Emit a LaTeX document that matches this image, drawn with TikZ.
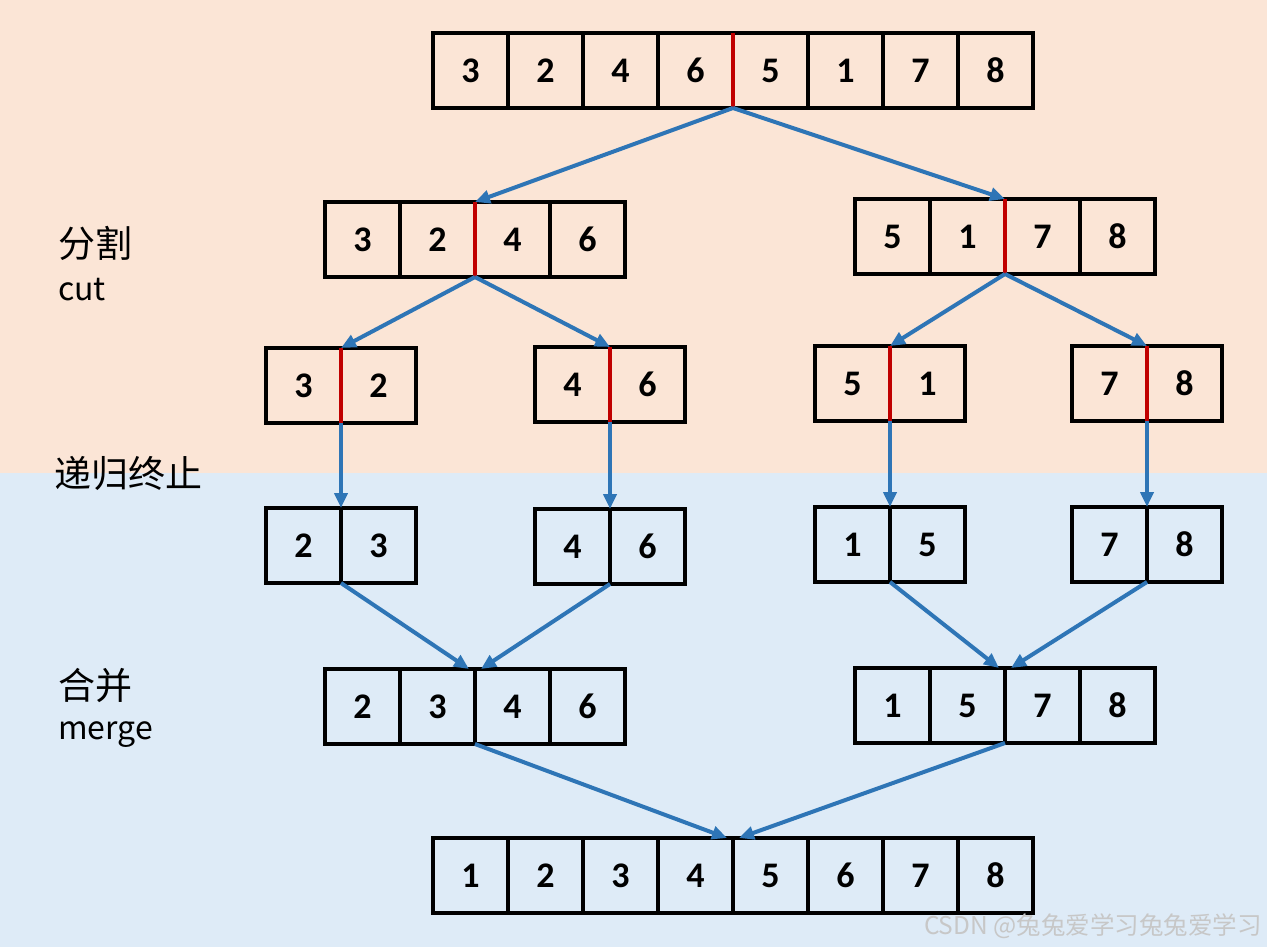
\documentclass[tikz,border=0pt]{standalone}
\usepackage{fontspec}
\setmainfont{Carlito}
\newfontfamily\cjkfont{Noto Sans CJK SC}
\usetikzlibrary{arrows.meta, positioning}
\definecolor{peach}{HTML}{FBE5D6}
\definecolor{paleblue}{HTML}{DEEBF7}
\definecolor{arrowblue}{HTML}{2E75B6}
\definecolor{splitred}{HTML}{C00000}

\tikzset{
  cell/.style={draw=black, line width=4.5pt, minimum width=75pt, minimum height=75pt,
    inner sep=0pt, outer sep=0pt, font=\fontsize{36}{36}\selectfont\bfseries},
  link/.style={arrowblue, line width=4pt, -{Triangle[length=15pt,width=13pt]}},
  divider/.style={splitred, line width=4pt},
  tag/.style={anchor=west, inner sep=0pt, font=\cjkfont\fontsize{37}{42}\selectfont},
  tagen/.style={anchor=base west, inner sep=0pt, font=\cjkfont\fontsize{32}{36}\selectfont},
}

\begin{document}
\begin{tikzpicture}[x=1pt, y=-1pt]
  \useasboundingbox (0,0) rectangle (1267,947);
  % --- fond : partie coupe / partie fusion ---
  \fill[peach] (0,0) rectangle (1267,473);
  \fill[paleblue] (0,473) rectangle (1267,947);

  % --- tableaux ---
  \foreach \nm/\ox/\oy/\vals in {
      top/395.5/70.5/{3,2,4,6,5,1,7,8},
      cutL/287.5/239.5/{3,2,4,6}, cutR/817.5/236.5/{5,1,7,8},
      pa/228.5/385.5/{3,2}, pb/497.5/384.5/{4,6}, pc/777.5/383.5/{5,1}, pd/1034.5/383.5/{7,8},
      sa/228.5/545.5/{2,3}, sb/497.5/546.5/{4,6}, sc/777.5/544.5/{1,5}, sd/1034.5/544.5/{7,8},
      mgL/287.5/706.5/{2,3,4,6}, mgR/817.5/705.5/{1,5,7,8},
      res/395.5/875.5/{1,2,3,4,5,6,7,8}}
    \foreach \v [count=\i] in \vals
      \node[cell] (\nm\i) at ({\ox+75*\i},\oy) {\v};

  % --- points de coupe ---
  \foreach \n in {top4,cutL2,cutR2,pa1,pb1,pc1,pd1}
    \draw[divider] (\n.north east) -- (\n.south east);

  % --- coupe ---
  \draw[link] (top4.south east) -- (cutL2.north east);
  \draw[link] (top4.south east) -- (cutR2.north east);
  \draw[link] (cutL2.south east) -- (pa1.north east);
  \draw[link] (cutL2.south east) -- (pb1.north east);
  \draw[link] (cutR2.south east) -- (pc1.north east);
  \draw[link] (cutR2.south east) -- (pd1.north east);
  % --- fin de la recursion ---
  \foreach \p/\s in {pa/sa,pb/sb,pc/sc,pd/sd}
    \draw[link] (\p1.south east) -- (\s1.north east);
  % --- fusion ---
  \draw[link] (sa1.south east) -- ([xshift=-6pt]mgL2.north east);
  \draw[link] (sb1.south east) -- ([xshift=6pt]mgL2.north east);
  \draw[link] (sc1.south east) -- ([xshift=-6pt]mgR2.north east);
  \draw[link] (sd1.south east) -- ([xshift=6pt]mgR2.north east);
  \draw[link] (mgL2.south east) -- ([xshift=-6pt]res4.north east);
  \draw[link] (mgR2.south east) -- ([xshift=6pt]res4.north east);

  % --- legendes ---
  \node[tag] (cutzh) at (58,243) {分割};
  \node[tagen] (cuten) at (58,300) {cut};
  \node[tag] (stopzh) at (54,473) {递归终止};
  \node[tag] (mergezh) at (58,686) {合并};
  \node[tagen] (mergeen) at (58,739) {merge};
  \node[anchor=east, inner sep=0pt, font=\cjkfont\fontsize{24.5}{25}\selectfont, text=black!22]
    (mark) at (1262,926) {CSDN @兔兔爱学习兔兔爱学习};
\end{tikzpicture}
\end{document}
